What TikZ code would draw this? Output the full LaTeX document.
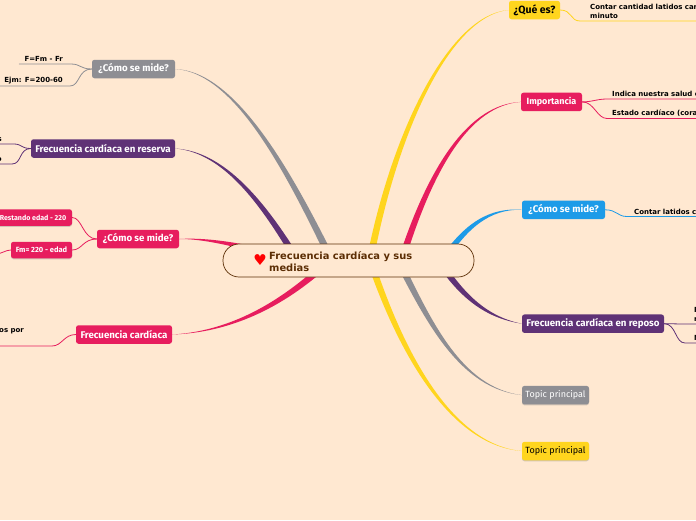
\documentclass[tikz,border=0pt]{standalone}
\usepackage{fontspec}
\setmainfont{Fira Sans}
\newfontfamily\subfont{DejaVu Sans}
\usetikzlibrary{calc,positioning,shadows,backgrounds}
\definecolor{paper}{HTML}{FFE8D1}
\definecolor{rootbrown}{HTML}{5C2E05}
\definecolor{topicgray}{HTML}{8E8E93}
\definecolor{topicpurple}{HTML}{5F3276}
\definecolor{topicpink}{HTML}{E71D5E}
\definecolor{topicyellow}{HTML}{FFD51E}
\definecolor{topicblue}{HTML}{1D9BE8}
% tapered branch: colour, hub, end, control near end, control near hub
\newcommand{\branchto}[5]{
  \fill[#1] ($(#2)!3.6pt!90:(#3)$) .. controls ($#5!3pt!90:(#3)$) and ($#4!0.7pt!90:(#3)$) .. (#3)
    .. controls ($#4!0.7pt!-90:(#3)$) and ($#5!3pt!-90:(#3)$) .. ($(#2)!3.6pt!-90:(#3)$) -- cycle;
}
\begin{document}
\begin{tikzpicture}[
  x=1pt,y=-1pt,
  topic/.style={rectangle,rounded corners=2.5pt,font=\fontsize{9.7}{10}\selectfont\bfseries,
    text=white,inner sep=0pt,minimum height=18.5pt},
  small/.style={topic,font=\fontsize{7.5}{8}\selectfont\bfseries,minimum height=16.5pt,
    drop shadow={shadow xshift=0pt,shadow yshift=-1pt,opacity=.35}},
  plain/.style={topic,font=\fontsize{9}{10}\selectfont,
    drop shadow={shadow xshift=0pt,shadow yshift=-1pt,opacity=.35}},
  sub/.style={font=\subfont\fontsize{7}{9}\selectfont\bfseries,text=black,inner sep=0pt,
    align=left,inner ysep=2pt},
  twig/.style={line width=0.8pt,line cap=round}
]
  \useasboundingbox (0,0) rectangle (696,520);

  \node[draw=rootbrown,fill=paper,line width=0.7pt,rounded corners=16pt,minimum width=251pt,
    minimum height=33pt] (root) at (348.5,260.5) {};
  \node[font=\subfont\fontsize{9.9}{12}\selectfont\bfseries,text=rootbrown,anchor=west,align=left,
    inner sep=0pt] (roottext) at (269,262) {Frecuencia cardíaca y sus\\medias};
  \node[font=\subfont\fontsize{15}{15}\selectfont,text=red,inner sep=0pt] (heart) at (260,260.5) {♥};

  % left side
  \node[topic,fill=topicgray,minimum width=83pt] (medeGray) at (133.5,69) {¿Cómo se mide?};
  \node[topic,fill=topicpurple,minimum width=144pt] (reserva) at (103,148.5) {Frecuencia cardíaca en reserva};
  \node[topic,fill=topicpink,minimum width=82pt] (medePink) at (138,239) {¿Cómo se mide?};
  \node[topic,fill=topicpink,minimum width=96pt] (cardiaca) at (124,334.5) {Frecuencia cardíaca};
  \node[small,font=\fontsize{7.1}{8}\selectfont\bfseries,fill=topicpink,minimum width=78pt] (restando) at (33,217.5) {Restando edad - 220};
  \node[small,fill=topicpink,minimum width=61pt] (formula) at (41.5,250) {Fm= 220 - edad};

  \node[sub,anchor=south east] (fm) at (63,64) {F=Fm - Fr};
  \node[sub,anchor=south east] (ejm) at (63,86) {Ejm: F=200-60};
  \node[sub,anchor=south east,text width=30pt,align=right] (resA) at (2,144) {s};
  \node[sub,anchor=south east,text width=30pt,align=right] (resB) at (2,164) {o};
  \node[sub,anchor=south east,text width=50pt,align=right] (porLeft) at (24,336) {os por};
  \coordinate (formulaEnd) at (-4,254);
  \coordinate (porEnd) at (-4,346);
  \coordinate (porBend) at (52,346);

  % right side
  \node[topic,font=\fontsize{10.5}{11}\selectfont\bfseries,fill=topicyellow,text=black,minimum width=51pt] (queEs) at (534.5,10) {¿Qué es?};
  \node[topic,font=\fontsize{9}{10}\selectfont\bfseries,fill=topicpink,minimum width=61pt,below=73pt of queEs.south west,anchor=north west,xshift=12pt] (importancia) {Importancia};
  \node[topic,fill=topicblue,minimum width=83pt,below=89pt of importancia.south west,anchor=north west,xshift=1pt] (medeBlue) {¿Cómo se mide?};
  \node[topic,fill=topicpurple,minimum width=142pt,below=95pt of medeBlue.south west,anchor=north west] (reposo) {Frecuencia cardíaca en reposo};
  \node[plain,fill=topicgray,minimum width=67pt,below=52.5pt of reposo.south west,anchor=north west] (topicGray) {Topic principal};
  \node[plain,fill=topicyellow,text=black,minimum width=67pt,below=37pt of topicGray.south west,anchor=north west] (topicYellow) {Topic principal};

  \node[sub,anchor=south west,text width=130pt] (contar) at (590,21) {Contar cantidad latidos car\\minuto};
  \node[sub,anchor=south west,text width=110pt] (salud) at (612,99) {Indica nuestra salud c};
  \node[sub,anchor=south west,text width=110pt] (estado) at (612,118.5) {Estado cardíaco (cora};
  \node[sub,anchor=south west,text width=90pt] (latidos) at (634,216.5) {Contar latidos c};
  \node[sub,anchor=south west,text width=30pt] (repA) at (694,324) {F\\n};
  \node[sub,anchor=south west,text width=30pt] (repB) at (694,343) {N};

  \begin{scope}[on background layer]
    \fill[paper] (0,0) rectangle (696,520);
    \coordinate (hubA) at (334,265);
    \coordinate (hubB) at (302,268);
    \coordinate (hubC) at (300,262);
    \coordinate (hubD) at (328,262);
    \coordinate (hubE) at (370,260);
    \coordinate (hubF) at (400,265);
    \coordinate (hubG) at (396,256);
    \coordinate (hubH) at (436,256);
    \coordinate (hubI) at (440,265);
    \branchto{topicgray}{hubA}{medeGray.east}{(235,72)}{(288,170)}
    \branchto{topicpurple}{hubB}{reserva.east}{(225,152)}{(265,205)}
    \branchto{topicpink}{hubC}{medePink.east}{(205,238)}{(245,245)}
    \branchto{topicpink}{hubD}{cardiaca.east}{(230,332)}{(282,305)}
    \branchto{topicyellow}{hubE}{queEs.west}{(450,15)}{(395,130)}
    \branchto{topicpink}{hubF}{importancia.west}{(470,105)}{(431,165)}
    \branchto{topicblue}{hubI}{medeBlue.west}{(490,208)}{(465,225)}
    \branchto{topicpurple}{hubH}{reposo.west}{(490,318)}{(463,300)}
    \branchto{topicgray}{hubG}{topicGray.west}{(460,388)}{(428,320)}
    \branchto{topicyellow}{hubE}{topicYellow.west}{(450,445)}{(400,350)}
  \end{scope}

  \draw[twig,topicgray] (medeGray.west) .. controls +(-12,0) and +(10,0) .. ($(fm.south east)+(8,0)$) -- ($(fm.south west)+(-5,0)$);
  \draw[twig,topicgray] (medeGray.west) .. controls +(-14,0) and +(10,0) .. ($(ejm.south east)+(7,0)$) -- ($(ejm.south west)+(-5,0)$);
  \draw[twig,topicpurple] (reserva.west) .. controls +(-10,0) and +(8,0) .. ($(resA.south east)+(12,0)$) -- (resA.south west);
  \draw[twig,topicpurple] (reserva.west) .. controls +(-12,0) and +(10,0) .. ($(resB.south east)+(10,0)$) -- (resB.south west);
  \draw[twig,topicpink] (medePink.west) .. controls +(-14,0) and +(10,0) .. (restando.east);
  \draw[twig,topicpink] (medePink.west) .. controls +(-14,0) and +(10,0) .. (formula.east);
  \draw[twig,topicpink] (formula.west) .. controls +(-5,0) and +(5,0) .. (formulaEnd);
  \draw[twig,topicpink] (cardiaca.west) .. controls +(-12,0) and +(10,0) .. (porBend) -- (porEnd);
  \draw[twig,topicyellow] (queEs.east) .. controls +(12,0) and +(-10,0) .. ($(contar.south west)+(-10,0)$) -- (contar.south east);
  \draw[twig,topicpink] (importancia.east) .. controls +(10,0) and +(-10,0) .. ($(salud.south west)+(-5,0)$) -- (salud.south east);
  \draw[twig,topicpink] (importancia.east) .. controls +(12,0) and +(-10,0) .. ($(estado.south west)+(-5,0)$) -- (estado.south east);
  \draw[twig,topicblue] (medeBlue.east) .. controls +(12,0) and +(-10,0) .. ($(latidos.south west)+(-7,0)$) -- (latidos.south east);
  \draw[twig,topicpurple] (reposo.east) .. controls +(8,0) and +(-8,0) .. ($(repA.south west)+(-9,0)$) -- (repA.south east);
  \draw[twig,topicpurple] (reposo.east) .. controls +(12,0) and +(-10,0) .. ($(repB.south west)+(-9,0)$) -- (repB.south east);
\end{tikzpicture}
\end{document}
